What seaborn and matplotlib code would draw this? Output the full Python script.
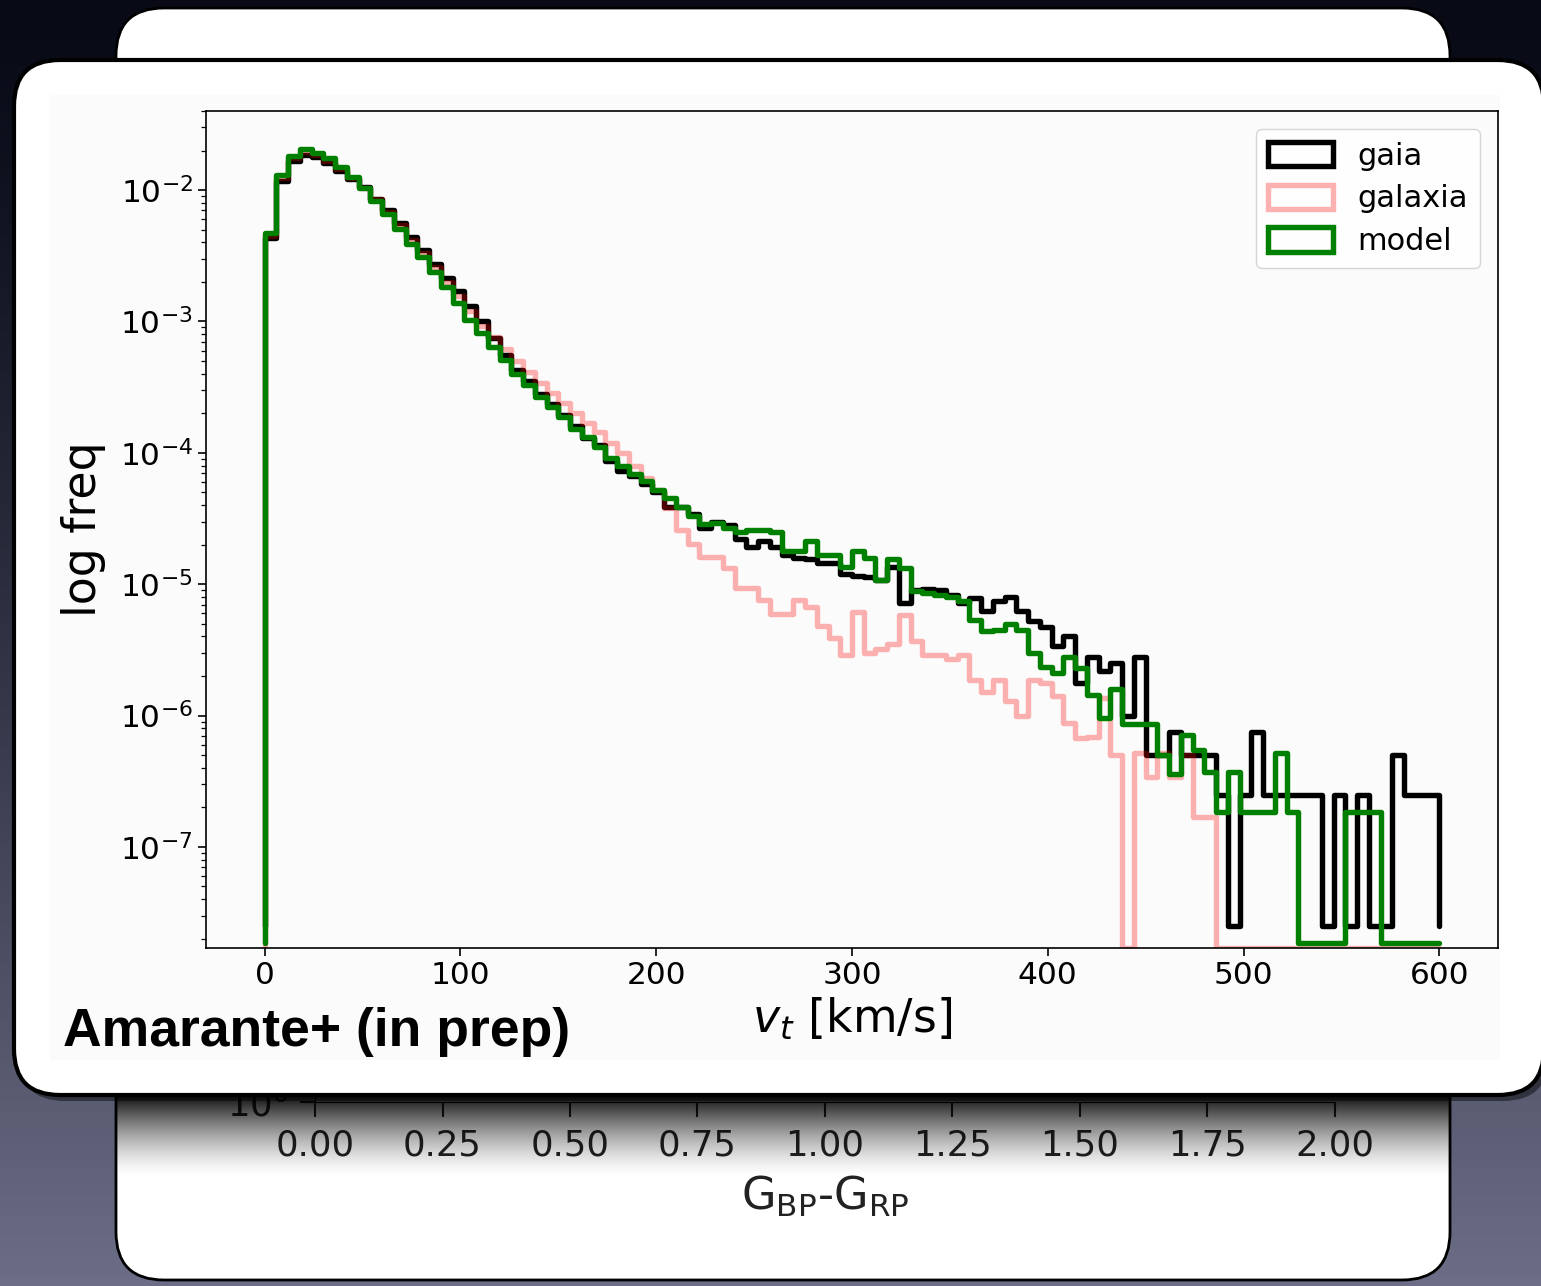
import numpy as np
import matplotlib
matplotlib.use("Agg")
import matplotlib.pyplot as plt
from matplotlib.patches import FancyBboxPatch, Patch, Rectangle
import seaborn as sns

# normalised histogram heights, 100 bins of 6 km/s between 0 and 600
gaia = [4.3e-3, 1.18e-2, 1.66e-2, 1.85e-2, 1.78e-2, 1.6e-2, 1.4e-2, 1.22e-2, 1.05e-2, 8.6e-3,
        7.0e-3, 5.6e-3, 4.4e-3, 3.5e-3, 2.75e-3, 2.15e-3, 1.7e-3, 1.3e-3, 1.0e-3, 7.5e-4,
        5.6e-4, 4.3e-4, 3.5e-4, 2.8e-4, 2.35e-4, 1.95e-4, 1.6e-4, 1.3e-4, 1.15e-4, 8.7e-5,
        7.3e-5, 6.7e-5, 5.8e-5, 5.0e-5, 3.9e-5, 3.9e-5, 3.4e-5, 2.7e-5, 3.0e-5, 2.8e-5,
        2.2e-5, 1.93e-5, 2.15e-5, 1.93e-5, 1.66e-5, 1.57e-5, 1.55e-5, 1.46e-5, 1.46e-5, 1.19e-5,
        1.15e-5, 1.14e-5, 1.08e-5, 1.36e-5, 7.2e-6, 9.1e-6, 9.2e-6, 9.0e-6, 8.3e-6, 7.2e-6,
        7.9e-6, 6.3e-6, 7.4e-6, 8.0e-6, 6.2e-6, 5.2e-6, 4.7e-6, 3.4e-6, 4.0e-6, 1.77e-6,
        2.8e-6, 2.2e-6, 2.5e-6, 1.0e-6, 2.8e-6, 5.0e-7, 5.0e-7, 7.5e-7, 5.0e-7, 5.0e-7,
        5.0e-7, 2.5e-7, 0, 2.5e-7, 7.5e-7, 2.5e-7, 2.5e-7, 2.5e-7, 2.5e-7, 2.5e-7,
        0, 2.5e-7, 0, 2.5e-7, 0, 0, 5.0e-7, 2.5e-7, 2.5e-7, 2.5e-7]

galaxia = [4.5e-3, 1.24e-2, 1.74e-2, 1.95e-2, 1.85e-2, 1.67e-2, 1.45e-2, 1.24e-2, 1.04e-2, 8.5e-3,
           6.8e-3, 5.4e-3, 4.2e-3, 3.3e-3, 2.6e-3, 2.0e-3, 1.55e-3, 1.2e-3, 9.3e-4, 7.6e-4,
           6.2e-4, 5.0e-4, 4.1e-4, 3.4e-4, 2.87e-4, 2.4e-4, 2.0e-4, 1.7e-4, 1.44e-4, 1.18e-4,
           9.9e-5, 7.9e-5, 6.4e-5, 5.2e-5, 3.8e-5, 2.6e-5, 2.04e-5, 1.6e-5, 1.6e-5, 1.32e-5,
           9.3e-6, 9.3e-6, 7.6e-6, 5.9e-6, 5.9e-6, 7.6e-6, 6.7e-6, 4.8e-6, 3.9e-6, 2.9e-6,
           6.1e-6, 3.0e-6, 3.2e-6, 3.5e-6, 5.8e-6, 3.7e-6, 2.9e-6, 2.9e-6, 2.7e-6, 2.9e-6,
           1.86e-6, 1.5e-6, 1.86e-6, 1.3e-6, 1.0e-6, 1.86e-6, 1.77e-6, 1.4e-6, 8.7e-7, 6.8e-7,
           6.9e-7, 1.36e-6, 5.0e-7, 0, 5.2e-7, 3.4e-7, 5.2e-7, 3.4e-7, 5.0e-7, 1.7e-7,
           1.7e-7, 0, 0, 0, 0, 0, 0, 0, 0, 0,
           0, 0, 0, 0, 0, 0, 0, 0, 0, 0]

model = [4.68e-3, 1.30e-2, 1.82e-2, 2.04e-2, 1.92e-2, 1.74e-2, 1.49e-2, 1.26e-2, 1.03e-2, 8.3e-3,
         6.6e-3, 5.1e-3, 3.9e-3, 3.1e-3, 2.39e-3, 1.84e-3, 1.37e-3, 1.03e-3, 8.1e-4, 6.35e-4,
         5.1e-4, 4.0e-4, 3.3e-4, 2.67e-4, 2.24e-4, 1.86e-4, 1.53e-4, 1.31e-4, 1.11e-4, 9.1e-5,
         7.9e-5, 6.9e-5, 6.1e-5, 5.2e-5, 4.5e-5, 3.9e-5, 3.3e-5, 2.85e-5, 2.9e-5, 2.7e-5,
         2.5e-5, 2.6e-5, 2.6e-5, 2.5e-5, 1.8e-5, 1.8e-5, 2.15e-5, 1.66e-5, 1.66e-5, 1.36e-5,
         1.8e-5, 1.57e-5, 1.08e-5, 1.55e-5, 1.32e-5, 8.9e-6, 8.6e-6, 8.3e-6, 8.0e-6, 7.5e-6,
         5.3e-6, 4.4e-6, 4.5e-6, 5.0e-6, 4.5e-6, 3.0e-6, 2.36e-6, 2.1e-6, 2.8e-6, 2.3e-6,
         1.43e-6, 9.5e-7, 1.6e-6, 8.6e-7, 8.6e-7, 8.6e-7, 5.0e-7, 3.6e-7, 7.1e-7, 5.5e-7,
         3.7e-7, 1.86e-7, 3.7e-7, 1.86e-7, 1.86e-7, 1.86e-7, 5.2e-7, 1.86e-7, 0, 0,
         0, 0, 1.86e-7, 1.86e-7, 1.86e-7, 0, 0, 0, 0, 0]

series = {"gaia": gaia, "galaxia": galaxia, "model": model}
colors = {"gaia": "black", "galaxia": "red", "model": "green"}
alphas = {"gaia": 1.0, "galaxia": 0.3, "model": 1.0}

edges = np.linspace(0, 600, 101)

# axis of the slide hidden behind
back_ticks = [0.00, 0.25, 0.50, 0.75, 1.00, 1.25, 1.50, 1.75, 2.00]

W, H = 1541, 1286
sns.set_style("ticks", {"axes.edgecolor": "black", "xtick.color": "black", "ytick.color": "black",
                        "text.color": "black", "axes.labelcolor": "black"})
plt.rcParams["font.family"] = ["DejaVu Sans"]
plt.rcParams["mathtext.fontset"] = "dejavusans"

fig = plt.figure(figsize=(W / 100, H / 100), dpi=100)


def box(x0, y0, x1, y1):
    return [x0 / W, 1 - y1 / H, (x1 - x0) / W, (y1 - y0) / H]


# slide background
bg = fig.add_axes([0, 0, 1, 1])
bg.set_zorder(0)
bg.set_xlim(0, W)
bg.set_ylim(H, 0)
bg.axis("off")
t = np.linspace(0, 1, 256)[:, None]
top = np.array([8, 10, 22]) / 255
bot = np.array([108, 110, 135]) / 255
grad = (top + (bot - top) * t ** 1.3)[:, None, :] * np.ones((1, 4, 1))
bg.imshow(grad, extent=[0, W, H, 0], aspect="auto")
bg.add_patch(FancyBboxPatch((116, 8), 1334, 1272, boxstyle="round,pad=0,rounding_size=48",
                            fc="white", ec="black", lw=2))
# soft grey at the top strip of the back card
g = np.linspace(0, 1, 64)[:, None]
top_shade = np.zeros((64, 2, 4))
top_shade[..., 3] = (0.18 * g ** 2)
bg.imshow(top_shade, extent=[118, 1448, 58, 28], aspect="auto")

# back plot axis (only its bottom shows)
back = fig.add_axes(box(315, 300, 1335, 1102))
back.set_zorder(1)
back.patch.set_alpha(0)
back.set_xlim(0, 2)
back.set_yscale("log")
back.set_ylim(1, 100)
back.set_xticks(back_ticks)
back.set_xticklabels([f"{v:.2f}" for v in back_ticks])
back.set_yticks([1])
back.set_yticklabels([r"$10^{0}$"])
back.minorticks_off()
back.tick_params(labelsize=25.5, length=11, width=1.5, colors="#222222", pad=8)
back.set_xlabel(r"G$_{\rm BP}$-G$_{\rm RP}$", fontsize=32, color="#222222", labelpad=8)
for s in ["top", "right"]:
    back.spines[s].set_visible(False)

# shadow of the front card falling on the back card
shade = fig.add_axes([0, 0, 1, 1])
shade.set_zorder(2)
shade.patch.set_alpha(0)
shade.set_xlim(0, W)
shade.set_ylim(H, 0)
shade.axis("off")
s = np.linspace(0, 1, 128)[:, None]
sh = np.zeros((128, 2, 4))
sh[..., 3] = np.clip(1 - s, 0, 1) ** 1.5 * 0.95
shade.imshow(sh, extent=[117, 1449, 1178, 1095], aspect="auto")

# front card
front = fig.add_axes([0, 0, 1, 1])
front.set_zorder(3)
front.patch.set_alpha(0)
front.set_xlim(0, W)
front.set_ylim(H, 0)
front.axis("off")
front.add_patch(FancyBboxPatch((19, 66), 1530, 1035, boxstyle="round,pad=0,rounding_size=46",
                               fc="black", ec="none", alpha=0.45))
front.add_patch(FancyBboxPatch((14, 60), 1530, 1035, boxstyle="round,pad=0,rounding_size=46",
                               fc="white", ec="black", lw=3))
front.add_patch(Rectangle((50, 95), 1450, 965, fc="#fbfbfb", ec="none"))

# the histogram panel
ax = fig.add_axes(box(206, 111, 1498, 948))
ax.set_zorder(4)
ax.patch.set_alpha(0)
for name, vals in series.items():
    v = np.asarray(vals, float)
    base = v[v > 0].min() / 10  # floor used by hist(log=True)
    h = np.where(v > 0, v, base)
    xs = np.concatenate([[edges[0]], edges])
    ys = np.concatenate([[base], h, [base]])
    sns.lineplot(x=xs, y=ys, ax=ax, estimator=None, sort=False, drawstyle="steps-post",
                 color=colors[name], alpha=alphas[name], lw=3.9, legend=False)

ax.set_yscale("log")
ax.set_xlim(-30, 630)
ax.set_ylim(1.7e-8, 0.04)
ax.set_xticks([0, 100, 200, 300, 400, 500, 600])
ax.tick_params(axis="both", which="major", labelsize=22.5, length=6, width=1.2)
ax.tick_params(axis="y", which="minor", length=3.5, width=0.9)
for sp in ax.spines.values():
    sp.set_linewidth(1.2)
ax.set_xlabel(r"$v_t$ [km/s]", fontsize=33, labelpad=4)
ax.set_ylabel("log freq", fontsize=33, labelpad=10)

handles = [Patch(facecolor="none", edgecolor=colors[n], alpha=alphas[n], lw=3.9, label=n)
           for n in series]
ax.legend(handles=handles, loc="upper right", fontsize=22, handlelength=2.1, handleheight=0.85,
          borderaxespad=0.6, framealpha=0.8, edgecolor="0.8", fancybox=True,
          labelspacing=0.45)

fig.text(63 / W, 1 - 1032 / H, "Amarante+ (in prep)", fontsize=38.5, fontweight="bold",
         family=["Liberation Sans", "DejaVu Sans"], va="center", ha="left", zorder=10)

fig.savefig("out.png", dpi=100)
